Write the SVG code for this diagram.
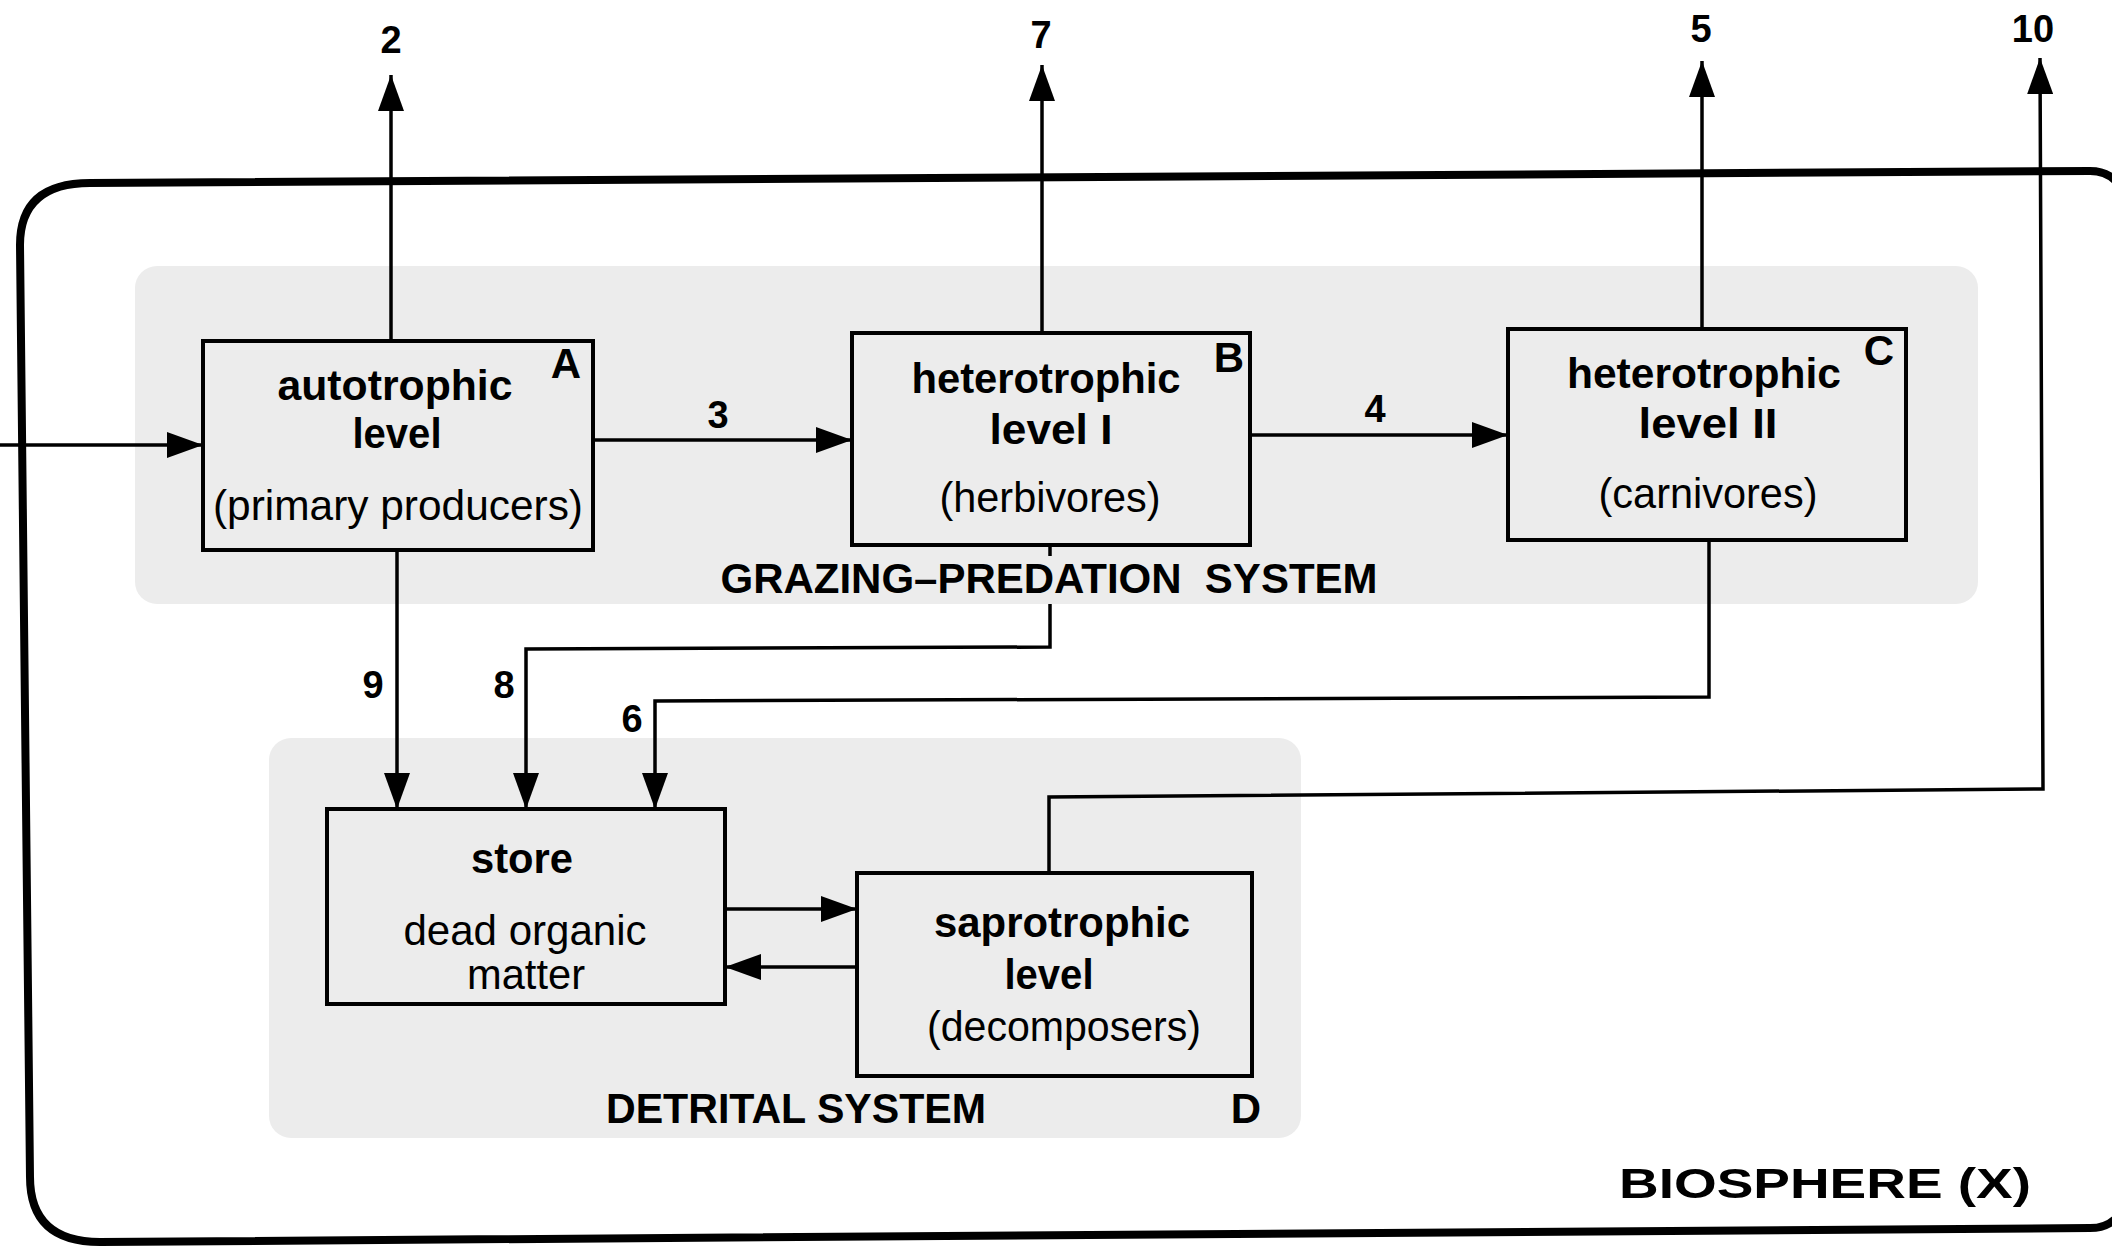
<svg xmlns="http://www.w3.org/2000/svg" width="2112" height="1247" viewBox="0 0 2112 1247">
<defs>
<marker id="ah" markerUnits="userSpaceOnUse" markerWidth="36" markerHeight="26" refX="36" refY="13" orient="auto">
<path d="M0,0 L36,13 L0,26 Z" fill="#000"/>
</marker>
<style>
.box{fill:none;stroke:#000;stroke-width:4}
.con{fill:none;stroke:#000;stroke-width:3.5}
.b{font-family:"Liberation Sans",Arial,sans-serif;font-weight:bold;font-size:42px;fill:#000;text-anchor:middle}
.r{font-family:"Liberation Sans",Arial,sans-serif;font-size:42px;fill:#000;text-anchor:middle}
.n{font-family:"Liberation Sans",Arial,sans-serif;font-weight:bold;font-size:38px;fill:#000;text-anchor:middle}
.zone{fill:#ececec}
</style>
</defs>
<rect width="2112" height="1247" fill="#fff"/>
<g id="biosphere">
<path d="M90 183 L2090 171 Q2112 171 2122 190 L2122 1210 Q2112 1228 2090 1228 L100 1242 Q30 1242 30 1177 L20 245 Q20 183 90 183 Z" fill="none" stroke="#000" stroke-width="8"/>
<text class="b" x="1825" y="1198" font-size="48" textLength="412" lengthAdjust="spacingAndGlyphs">BIOSPHERE (X)</text>
</g>
<g id="grazing-system">
<rect class="zone" x="135" y="266" width="1843" height="338" rx="22"/>
<text class="b" x="1049" y="593" textLength="657" lengthAdjust="spacingAndGlyphs" xml:space="preserve">GRAZING–PREDATION  SYSTEM</text>
</g>
<g id="detrital-system">
<rect class="zone" x="269" y="738" width="1032" height="400" rx="22"/>
<text class="b" x="796" y="1123" textLength="380" lengthAdjust="spacingAndGlyphs">DETRITAL SYSTEM</text>
<text class="b" x="1246" y="1123">D</text>
</g>
<g id="connectors">
<path class="con" d="M0 445 L203 445" marker-end="url(#ah)"/>
<path class="con" d="M593 440 L852 440" marker-end="url(#ah)"/>
<path class="con" d="M1250 435 L1508 435" marker-end="url(#ah)"/>
<path class="con" d="M391 341 L391 75" marker-end="url(#ah)"/>
<path class="con" d="M1042 333 L1042 65" marker-end="url(#ah)"/>
<path class="con" d="M1702 329 L1702 61" marker-end="url(#ah)"/>
<path class="con" d="M1049 873 L1049 797 L2043 789 L2040 58" marker-end="url(#ah)"/>
<path class="con" d="M397 550 L397 809" marker-end="url(#ah)"/>
<path class="con" d="M1050 545 L1050 556"/>
<path class="con" d="M1050 604 L1050 647 L526 649 L526 809" marker-end="url(#ah)"/>
<path class="con" d="M1709 540 L1709 697 L655 701 L655 809" marker-end="url(#ah)"/>
<path class="con" d="M725 909 L857 909" marker-end="url(#ah)"/>
<path class="con" d="M857 967 L725 967" marker-end="url(#ah)"/>
<text class="n" x="391" y="53">2</text>
<text class="n" x="1041" y="48">7</text>
<text class="n" x="1701" y="42">5</text>
<text class="n" x="2033" y="42">10</text>
<text class="n" x="718" y="428">3</text>
<text class="n" x="1375" y="422">4</text>
<text class="n" x="373" y="698">9</text>
<text class="n" x="504" y="698">8</text>
<text class="n" x="632" y="732">6</text>
</g>
<g id="node-A">
<rect class="box" x="203" y="341" width="390" height="209"/>
<text class="b" x="395" y="400" textLength="235" lengthAdjust="spacingAndGlyphs">autotrophic</text>
<text class="b" x="397" y="448" textLength="89" lengthAdjust="spacingAndGlyphs">level</text>
<text class="r" x="398" y="520" textLength="370" lengthAdjust="spacingAndGlyphs">(primary producers)</text>
<text class="b" x="566" y="378">A</text>
</g>
<g id="node-B">
<rect class="box" x="852" y="333" width="398" height="212"/>
<text class="b" x="1046" y="393" textLength="269" lengthAdjust="spacingAndGlyphs">heterotrophic</text>
<text class="b" x="1051" y="444" textLength="123" lengthAdjust="spacingAndGlyphs">level I</text>
<text class="r" x="1050" y="512" textLength="221" lengthAdjust="spacingAndGlyphs">(herbivores)</text>
<text class="b" x="1229" y="372">B</text>
</g>
<g id="node-C">
<rect class="box" x="1508" y="329" width="398" height="211"/>
<text class="b" x="1704" y="388" textLength="274" lengthAdjust="spacingAndGlyphs">heterotrophic</text>
<text class="b" x="1708" y="438" textLength="139" lengthAdjust="spacingAndGlyphs">level II</text>
<text class="r" x="1708" y="508" textLength="219" lengthAdjust="spacingAndGlyphs">(carnivores)</text>
<text class="b" x="1879" y="365">C</text>
</g>
<g id="node-store">
<rect class="box" x="327" y="809" width="398" height="195"/>
<text class="b" x="522" y="873" textLength="102" lengthAdjust="spacingAndGlyphs">store</text>
<text class="r" x="525" y="945" font-size="35" textLength="243" lengthAdjust="spacingAndGlyphs">dead organic</text>
<text class="r" x="526" y="989" font-size="35" textLength="118" lengthAdjust="spacingAndGlyphs">matter</text>
</g>
<g id="node-saprotrophic">
<rect class="box" x="857" y="873" width="395" height="203"/>
<text class="b" x="1062" y="937" textLength="256" lengthAdjust="spacingAndGlyphs">saprotrophic</text>
<text class="b" x="1049" y="989" textLength="89" lengthAdjust="spacingAndGlyphs">level</text>
<text class="r" x="1064" y="1041" textLength="274" lengthAdjust="spacingAndGlyphs">(decomposers)</text>
</g>
</svg>
